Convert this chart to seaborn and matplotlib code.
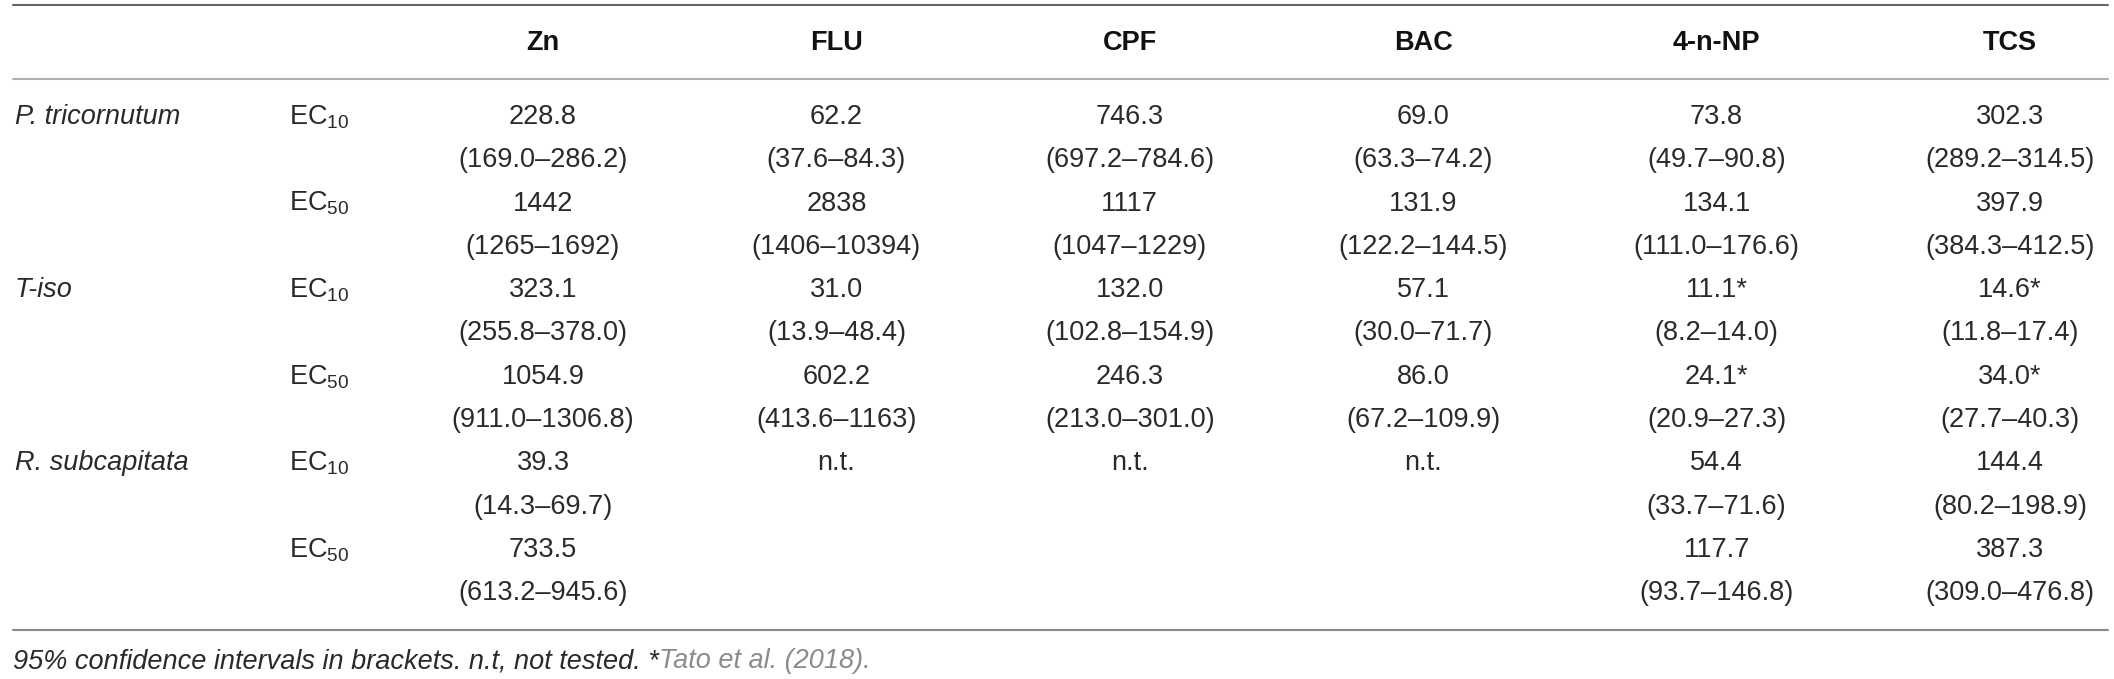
import numpy as np
import pandas as pd
import matplotlib.pyplot as plt
import seaborn as sns

# table content
species = ['P. tricornutum', 'T-iso', 'R. subcapitata']
endpoints = ['10', '50']
compounds = ['Zn', 'FLU', 'CPF', 'BAC', '4-n-NP', 'TCS']

zn_est = ['228.8', '1442', '323.1', '1054.9', '39.3', '733.5']
zn_ci = ['169.0–286.2', '1265–1692', '255.8–378.0', '911.0–1306.8', '14.3–69.7', '613.2–945.6']
flu_est = ['62.2', '2838', '31.0', '602.2', 'n.t.', '']
flu_ci = ['37.6–84.3', '1406–10394', '13.9–48.4', '413.6–1163', '', '']
cpf_est = ['746.3', '1117', '132.0', '246.3', 'n.t.', '']
cpf_ci = ['697.2–784.6', '1047–1229', '102.8–154.9', '213.0–301.0', '', '']
bac_est = ['69.0', '131.9', '57.1', '86.0', 'n.t.', '']
bac_ci = ['63.3–74.2', '122.2–144.5', '30.0–71.7', '67.2–109.9', '', '']
np_est = ['73.8', '134.1', '11.1*', '24.1*', '54.4', '117.7']
np_ci = ['49.7–90.8', '111.0–176.6', '8.2–14.0', '20.9–27.3', '33.7–71.6', '93.7–146.8']
tcs_est = ['302.3', '397.9', '14.6*', '34.0*', '144.4', '387.3']
tcs_ci = ['289.2–314.5', '384.3–412.5', '11.8–17.4', '27.7–40.3', '80.2–198.9', '309.0–476.8']

footnote = '95% confidence intervals in brackets. n.t, not tested. *'
footnote_ref = 'Tato et al. (2018).'

est = [zn_est, flu_est, cpf_est, bac_est, np_est, tcs_est]
ci = [zn_ci, flu_ci, cpf_ci, bac_ci, np_ci, tcs_ci]
rows = []
for c, comp in enumerate(compounds):
    for r in range(len(species) * len(endpoints)):
        rows.append({'compound': comp, 'col': c, 'row': r,
                     'species': species[r // 2], 'endpoint': endpoints[r % 2],
                     'est': est[c][r], 'ci': ci[c][r]})
table = pd.DataFrame(rows)

sns.set_theme(style='white')
plt.rcParams['font.family'] = ['Liberation Sans', 'DejaVu Sans']

W, H = 2114, 679
fig = plt.figure(figsize=(W / 100, H / 100), dpi=100)
ax = fig.add_axes([0, 0, 1, 1])

# column index -> pixel: 543 + 293.4*i ; row index -> pixel: 117 + 86.6*j
x0, dx = 543, 293.4
y0, dy = 117, 86.6
ax.set_xlim(-x0 / dx, (W - x0) / dx)
ax.set_ylim((H - y0) / dy, -y0 / dy)
ax.axis('off')

def px_to_x(p):
    return (p - x0) / dx

def px_to_y(p):
    return (p - y0) / dy

ink = '#2a2a2a'
fs = 19.5

# header
for c, comp in enumerate(compounds):
    ax.text(c, px_to_y(43), comp, ha='center', va='center', fontsize=fs,
            fontweight='bold', color='#111111',
            family=['Liberation Sans Narrow', 'Liberation Sans', 'DejaVu Sans'])

# rules
xa, xb = 13 / W, 2108 / W
ax.axhline(px_to_y(5), xa, xb, color='#666666', lw=1.5)
ax.axhline(px_to_y(79), xa, xb, color='#b0b0b0', lw=1.5)
ax.axhline(px_to_y(630), xa, xb, color='#8a8a8a', lw=1.5)

# row labels
for r in range(len(species) * len(endpoints)):
    if r % 2 == 0:
        ax.text(px_to_x(15), r, species[r // 2], ha='left', va='center',
                fontsize=fs, style='italic', color=ink)
    ax.text(px_to_x(289), r, 'EC$_{\\mathregular{' + endpoints[r % 2] + '}}$',
            ha='left', va='center', fontsize=fs, color=ink)

# cells
for _, d in table.iterrows():
    if d['est']:
        ax.text(d['col'], d['row'], d['est'], ha='center', va='center',
                fontsize=fs, color=ink)
    if d['ci']:
        ax.text(d['col'], d['row'] + 0.5, '(' + d['ci'] + ')', ha='center',
                va='center', fontsize=fs, color=ink)

# footnote
t = ax.text(px_to_x(13), px_to_y(661), footnote, ha='left', va='center',
            fontsize=fs, style='italic', color=ink)
fig.canvas.draw()
bb = t.get_window_extent()
ax.annotate(footnote_ref, xy=(bb.x1, (bb.y0 + bb.y1) / 2), xycoords='figure pixels',
            ha='left', va='center', fontsize=fs, style='italic', color='#8c8c8c')

fig.savefig('out.png', dpi=100)
